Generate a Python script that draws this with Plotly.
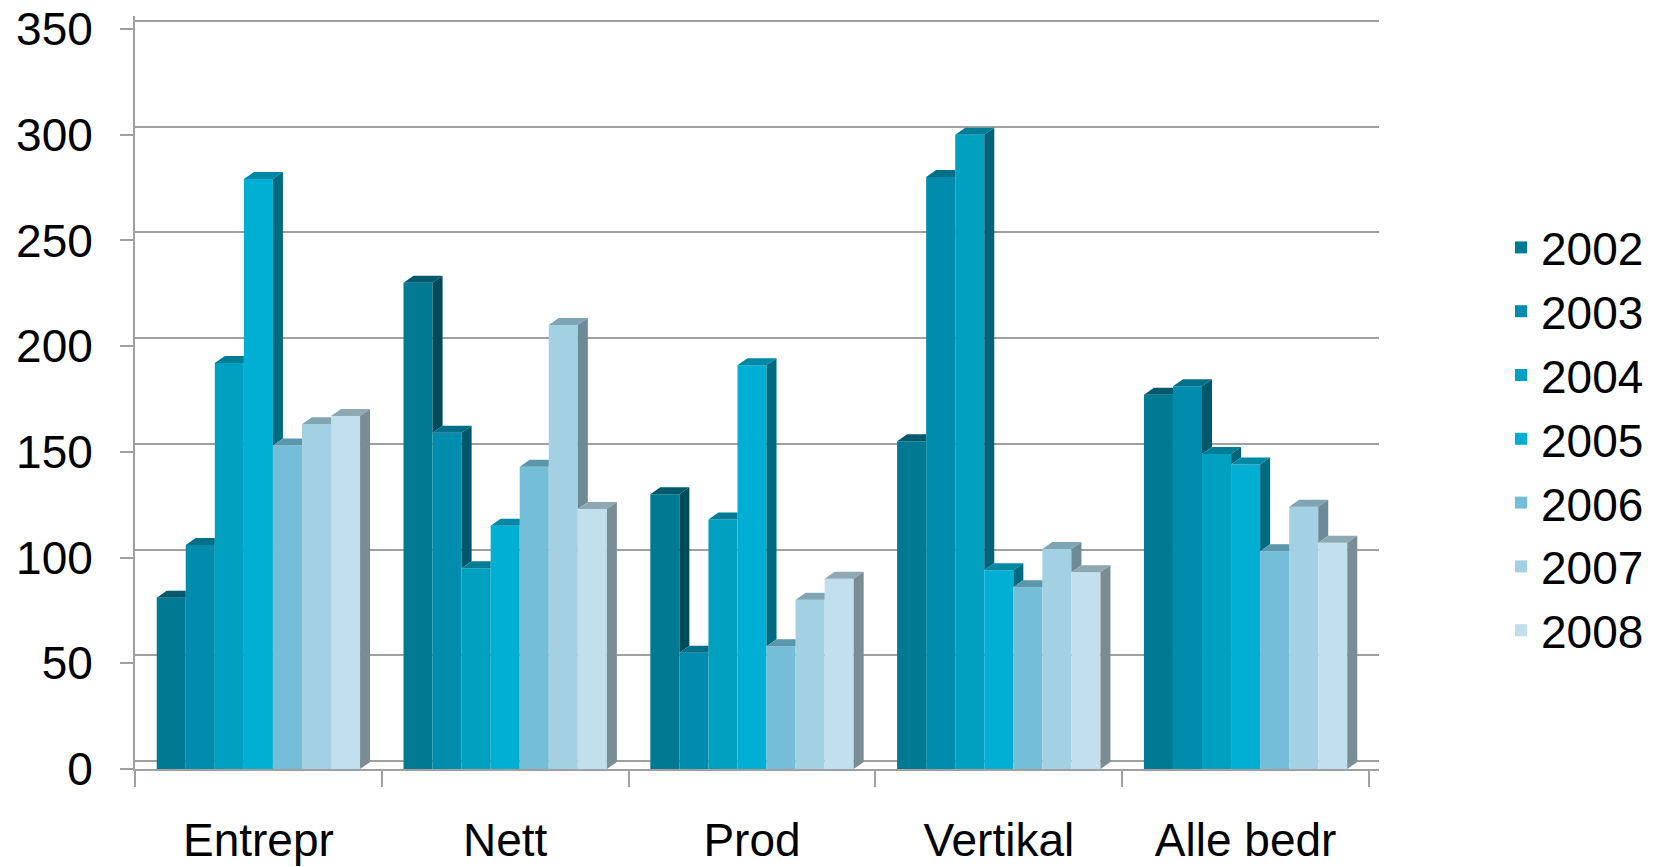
import plotly.graph_objects as go

# ---------------- data ----------------
categories = ["Entrepr", "Nett", "Prod", "Vertikal", "Alle bedr"]
years = ["2002", "2003", "2004", "2005", "2006", "2007", "2008"]
v2002 = [81, 230, 130, 155, 177]
v2003 = [106, 159, 55, 280, 181]
v2004 = [192, 95, 118, 300, 149]
v2005 = [279, 115, 191, 94, 144]
v2006 = [153, 143, 58, 86, 103]
v2007 = [163, 210, 80, 104, 124]
v2008 = [167, 123, 90, 93, 107]
y_ticks = [0, 50, 100, 150, 200, 250, 300, 350]

series = [v2002, v2003, v2004, v2005, v2006, v2007, v2008]

# ---------------- style ----------------
front_colors = ["#007A93", "#008DAD", "#00A0C0", "#00AFD3", "#74BED9", "#A3D0E3", "#C1DFEC"]
top_colors = ["#005A6C", "#006F88", "#007D96", "#0089A5", "#5A97AD", "#7FA5B5", "#8FA9B4"]
side_colors = ["#004A59", "#00586C", "#006377", "#006A80", "#5A8EA0", "#6C8B97", "#7A8D95"]
grid_col = "#A0A0A0"
FONT = "Liberation Sans, Arial, sans-serif"
FS = 46

BODY = 8                       # default page margin around the plot div
FIG_W, FIG_H = 1656 - BODY, 867 - BODY
ML, MR, MT, MB = 135 - BODY, 277, 16 - BODY, 98
PW = FIG_W - ML - MR           # plot width in px
PH = FIG_H - MT - MB           # plot height in px
WALL_DX, WALL_DY = 10, 8       # back wall offset (px)
FRONT_W = PW - WALL_DX
YMAX = y_ticks[-1]
px_per_y = 740 / YMAX
TOP_EXTRA = PH - 740           # px above the front 350 tick

n_cat = len(categories)
n_ser = len(series)
group_w = 0.824                # fraction of category occupied by the bar group
bar_w = group_w / n_ser
px_per_x = FRONT_W / n_cat
dx = 10 / px_per_x             # bar depth, x (data units)
dy = 7 / px_per_y              # bar depth, y (data units)
wall_dy = WALL_DY / px_per_y   # back wall lift (data units)

fig = go.Figure()

# front faces
for i, (yr, vals) in enumerate(zip(years, series)):
    fig.add_trace(go.Bar(
        x=list(range(n_cat)), y=vals, name=yr,
        width=bar_w, offset=-group_w / 2 + i * bar_w,
        marker=dict(color=front_colors[i], line=dict(width=0)),
        legendgroup=yr,
    ))

# top and side faces (3-D look)
for i, vals in enumerate(series):
    tx, ty, sx, sy = [], [], [], []
    for k in range(n_cat):
        v = vals[k]
        x0 = k - group_w / 2 + i * bar_w
        x1 = x0 + bar_w
        vn = series[i + 1][k] if i + 1 < n_ser else None
        if vn is not None and vn > v:
            tx += [x0, x1, x1, x0 + dx, x0, None]
        else:
            tx += [x0, x1, x1 + dx, x0 + dx, x0, None]
        ty += [v, v, v + dy, v + dy, v, None]
        bottom = 0 if vn is None else vn
        if v > bottom:
            sx += [x1, x1, x1 + dx, x1 + dx, x1, None]
            sy += [bottom, v, v + dy, bottom + dy, bottom, None]
    fig.add_trace(go.Scatter(x=tx, y=ty, mode="lines", fill="toself",
                             fillcolor=top_colors[i], line=dict(width=0, color=top_colors[i]),
                             hoverinfo="skip", showlegend=False))
    if sx:
        fig.add_trace(go.Scatter(x=sx, y=sy, mode="lines", fill="toself",
                                 fillcolor=side_colors[i], line=dict(width=0, color=side_colors[i]),
                                 hoverinfo="skip", showlegend=False))

boundaries = [k - 0.5 for k in range(n_cat + 1)]
wall_grid = [t + wall_dy for t in y_ticks]

fig.update_layout(
    width=FIG_W, height=FIG_H,
    margin=dict(l=ML, r=MR, t=MT, b=MB, pad=0, autoexpand=False),
    paper_bgcolor="white", plot_bgcolor="white",
    barmode="overlay",
    font=dict(family=FONT, size=FS, color="black"),
    xaxis=dict(range=[-0.5, n_cat - 0.5 + WALL_DX / px_per_x],
               tickvals=list(range(n_cat)), ticktext=categories, ticks="",
               showline=True, linecolor=grid_col, linewidth=2,
               showgrid=False, zeroline=False, automargin=False,
               tickfont=dict(size=FS, family=FONT, color="black"),
               ticklabelstandoff=30, ticklabeloverflow="allow",
               minor=dict(tickvals=boundaries, ticks="outside", ticklen=16,
                          tickcolor=grid_col, tickwidth=2, showgrid=False)),
    yaxis=dict(range=[0, YMAX + TOP_EXTRA / px_per_y],
               tickvals=y_ticks, ticks="outside", ticklen=13,
               tickcolor=grid_col, tickwidth=2,
               showline=True, linecolor=grid_col, linewidth=2,
               showgrid=False, zeroline=False, automargin=False,
               tickfont=dict(size=FS, family=FONT, color="black"),
               ticklabelstandoff=18, ticklabeloverflow="allow",
               minor=dict(tickvals=wall_grid, ticks="", showgrid=True,
                          gridcolor=grid_col, gridwidth=2)),
    legend=dict(x=(1501 - 135) / PW, xanchor="left",
                y=(FIG_H - MB - (211 - BODY)) / PH, yanchor="top",
                font=dict(size=FS, family=FONT, color="black"),
                tracegroupgap=1, bgcolor="rgba(0,0,0,0)", borderwidth=0),
)

fig.write_html("out.html")
